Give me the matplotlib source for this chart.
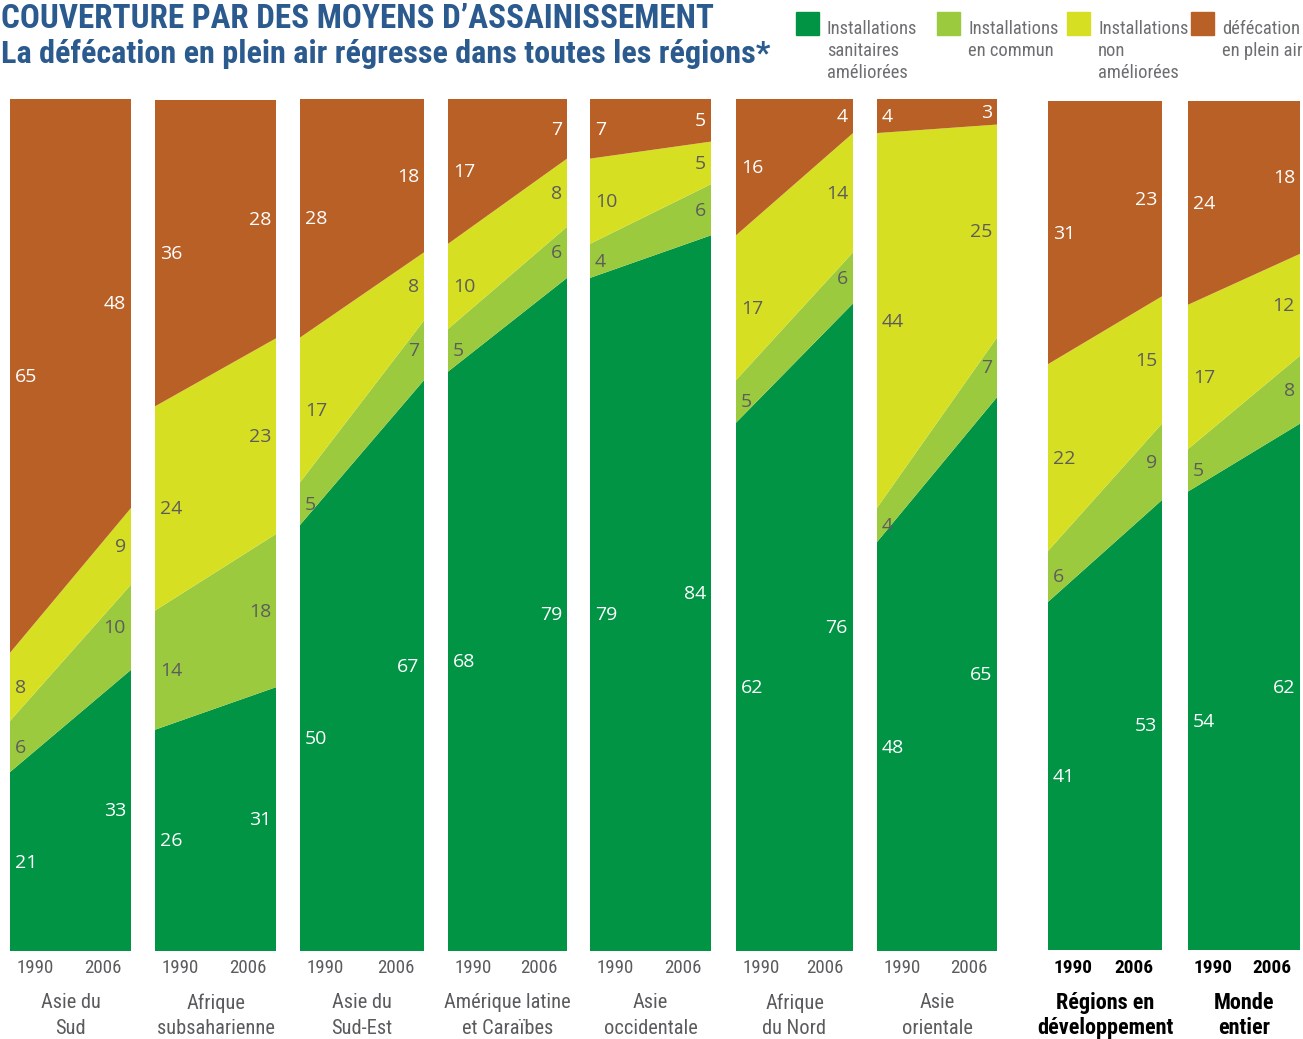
import matplotlib
matplotlib.use("Agg")
import matplotlib.pyplot as plt
from matplotlib import font_manager as fm

# ---------------- data ----------------
regions = ["Asie du\nSud", "Afrique\nsubsaharienne", "Asie du\nSud-Est",
           "Amérique latine\net Caraïbes", "Asie\noccidentale", "Afrique\ndu Nord",
           "Asie\norientale", "Régions en\ndéveloppement", "Monde\nentier"]
years = ["1990", "2006"]
series_names = ["Installations\nsanitaires\naméliorées", "Installations\nen commun",
                "Installations\nnon\naméliorées", "défécation\nen plein air"]
# values per region: [1990, 2006] for each category
ameliorees = [[21, 33], [26, 31], [50, 67], [68, 79], [79, 84], [62, 76], [48, 65], [41, 53], [54, 62]]
commun     = [[6, 10], [14, 18], [5, 7], [5, 6], [4, 6], [5, 6], [4, 7], [6, 9], [5, 8]]
non_amel   = [[8, 9], [24, 23], [17, 8], [10, 8], [10, 5], [17, 14], [44, 25], [22, 15], [17, 12]]
plein_air  = [[65, 48], [36, 28], [28, 18], [17, 7], [7, 5], [16, 4], [4, 3], [31, 23], [24, 18]]
bold_regions = [False] * 7 + [True] * 2

# ---------------- style ----------------
colors = ["#009444", "#9bca3e", "#d7df23", "#b96027"]
label_colors = ["white", "#5d5d5d", "#5d5d5d", "white"]
title_color = "#2a5a8e"
gray = "#5a5b5d"

entries = fm.fontManager.ttflist
names = {f.name for f in entries}
NARROW, NSTRETCH = "DejaVu Sans", "normal"
for cand in ["Liberation Sans Narrow", "Roboto Condensed", "Open Sans Condensed",
             "Noto Sans Condensed", "DejaVu Sans Condensed", "Arial Narrow"]:
    if cand in names:
        NARROW = cand
        break
else:
    for pref in ["Roboto", "Noto Sans", "Open Sans", "DejaVu Sans", "Liberation Sans"]:
        if any(f.name == pref and str(f.stretch) in ("condensed", "semi-condensed",
               "extra-condensed", "ultra-condensed") for f in entries):
            NARROW, NSTRETCH = pref, "condensed"
            break
NUMF = "Open Sans" if "Open Sans" in names else "DejaVu Sans"

W, H = 1303, 1039
fig = plt.figure(figsize=(W / 100, H / 100), dpi=100)
renderer = fig.canvas.get_renderer()


def fx(x):
    return x / W


def fy(y):
    return 1 - y / H


def size_for(text, width_px, weight="normal", family=None, stretch=None):
    t = fig.text(0, 0, text, fontsize=20, family=family or NARROW,
                 fontstretch=stretch or NSTRETCH, fontweight=weight)
    w = t.get_window_extent(renderer=renderer).width
    t.remove()
    return 20 * width_px / w


fs_leg = size_for("Installations", 90)
fs_reg = size_for("Amérique latine", 126)
fs_regb = size_for("développement", 136, weight="bold")
fs_year = size_for("1990", 37)
fs_yearb = size_for("1990", 39, weight="bold")
fs_t1 = size_for("COUVERTURE PAR DES MOYENS D\u2019ASSAINISSEMENT", 714, weight="bold")
fs_t2 = size_for("La défécation en plein air régresse dans toutes les régions*", 767, weight="bold")

# panel pixel extents (left, right, top, bottom)
panels = [(10, 131, 99, 951), (155, 276, 100, 951), (300, 424, 99, 951),
          (448, 567, 99, 951), (590, 711, 99, 951), (736, 853, 99, 951),
          (877, 997, 99, 951), (1048, 1162, 101, 950), (1188, 1300, 101, 950)]

series = [ameliorees, commun, non_amel, plein_air]

for i, (l, r, t, b) in enumerate(panels):
    ax = fig.add_axes([fx(l), fy(b), (r - l) / W, (b - t) / H])
    ys = [[s[i][0], s[i][1]] for s in series]
    ax.stackplot([0, 1], ys, colors=colors, linewidth=0)
    ax.set_xlim(0, 1)
    ax.set_ylim(0, 100)
    ax.axis("off")
    cum = [0, 0]
    for k, s in enumerate(series):
        v0, v1 = s[i]
        m0 = cum[0] + v0 / 2
        m1 = cum[1] + v1 / 2
        cum = [cum[0] + v0, cum[1] + v1]
        ax.annotate(str(v0), xy=(0, m0), xytext=(5, -1), textcoords="offset pixels",
                    ha="left", va="center", color=label_colors[k],
                    fontsize=14, family=NUMF)
        ax.annotate(str(v1), xy=(1, m1), xytext=(-5, -1), textcoords="offset pixels",
                    ha="right", va="center", color=label_colors[k],
                    fontsize=14, family=NUMF)
    # year labels
    bold = bold_regions[i]
    ycol = "black" if bold else gray
    wt = "bold" if bold else "normal"
    yfs = fs_yearb if bold else fs_year
    fig.text(fx(l + 25), fy(968), years[0], ha="center", va="center", color=ycol,
             fontsize=yfs, family=NARROW, fontstretch=NSTRETCH, fontweight=wt)
    fig.text(fx(r - 28), fy(968), years[1], ha="center", va="center", color=ycol,
             fontsize=yfs, family=NARROW, fontstretch=NSTRETCH, fontweight=wt)
    # region labels
    lines = regions[i].split("\n")
    cx = (l + r) / 2
    for j, line in enumerate(lines):
        fig.text(fx(cx), fy(1003 + 25 * j), line, ha="center", va="center",
                 color="black" if bold else gray,
                 fontsize=fs_regb if bold else fs_reg, family=NARROW,
                 fontstretch=NSTRETCH, fontweight=wt)

# ---------------- titles ----------------
fig.text(fx(1), fy(28), "COUVERTURE PAR DES MOYENS D\u2019ASSAINISSEMENT",
         ha="left", va="baseline", color=title_color, fontsize=fs_t1,
         family=NARROW, fontstretch=NSTRETCH, fontweight="bold")
fig.text(fx(1), fy(63), "La défécation en plein air régresse dans toutes les régions*",
         ha="left", va="baseline", color=title_color, fontsize=fs_t2,
         family=NARROW, fontstretch=NSTRETCH, fontweight="bold")

# ---------------- legend ----------------
leg_sq = [796, 937, 1067, 1191]
for k in range(4):
    x0 = leg_sq[k]
    fig.patches.append(plt.Rectangle((fx(x0), fy(35)), 23 / W, 23 / H,
                                     transform=fig.transFigure, color=colors[k]))
    for j, line in enumerate(series_names[k].split("\n")):
        fig.text(fx(x0 + 31), fy(34 + 22 * j), line, ha="left", va="baseline",
                 color="#6d6e71", fontsize=fs_leg, family=NARROW,
                 fontstretch=NSTRETCH)

fig.savefig("out.png", dpi=100)
